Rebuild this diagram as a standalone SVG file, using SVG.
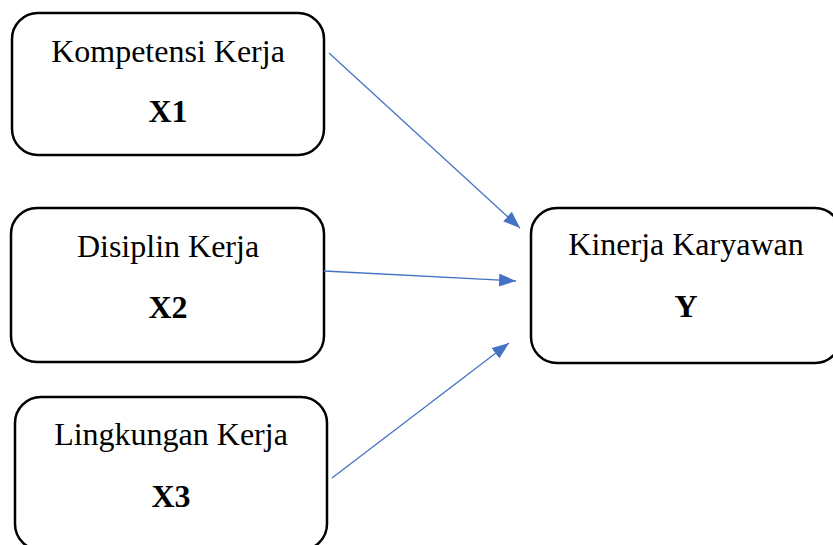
<svg xmlns="http://www.w3.org/2000/svg" width="833" height="545" viewBox="0 0 833 545">
<style>
.box{fill:#fff;stroke:#000;stroke-width:2.5}
.t{font-family:"Liberation Serif","Times New Roman",serif;font-size:32px;fill:#000;text-anchor:middle}
.b{font-weight:bold;font-size:32px}
.c{stroke:#4472C4;stroke-width:1.3;fill:none}
</style>
<defs>
<marker id="ah2" viewBox="0 0 17 13" refX="17" refY="6.5" markerWidth="17" markerHeight="13" markerUnits="userSpaceOnUse" orient="auto">
<path d="M0,0 L17,6.5 L0,13 z" fill="#4472C4"/>
</marker>
</defs>
<g id="x1">
<rect class="box" x="12" y="13" width="312" height="142" rx="26"/>
<text class="t" x="168" y="62">Kompetensi Kerja</text>
<text class="t b" x="168" y="122">X1</text>
</g>
<g id="x2">
<rect class="box" x="11" y="208" width="313" height="154" rx="26"/>
<text class="t" x="168" y="257">Disiplin Kerja</text>
<text class="t b" x="168" y="318">X2</text>
</g>
<g id="x3">
<rect class="box" x="15" y="397" width="312" height="153" rx="26"/>
<text class="t" x="171" y="445">Lingkungan Kerja</text>
<text class="t b" x="171" y="507">X3</text>
</g>
<g id="y">
<rect class="box" x="531" y="208" width="310" height="155" rx="26"/>
<text class="t" x="686" y="255">Kinerja Karyawan</text>
<text class="t b" x="686" y="317">Y</text>
</g>
<g id="connectors">
<line class="c" x1="329" y1="53" x2="520" y2="228" marker-end="url(#ah2)"/>
<line class="c" x1="324" y1="271" x2="516" y2="281" marker-end="url(#ah2)"/>
<line class="c" x1="332" y1="478" x2="509" y2="343" marker-end="url(#ah2)"/>
</g>
</svg>
